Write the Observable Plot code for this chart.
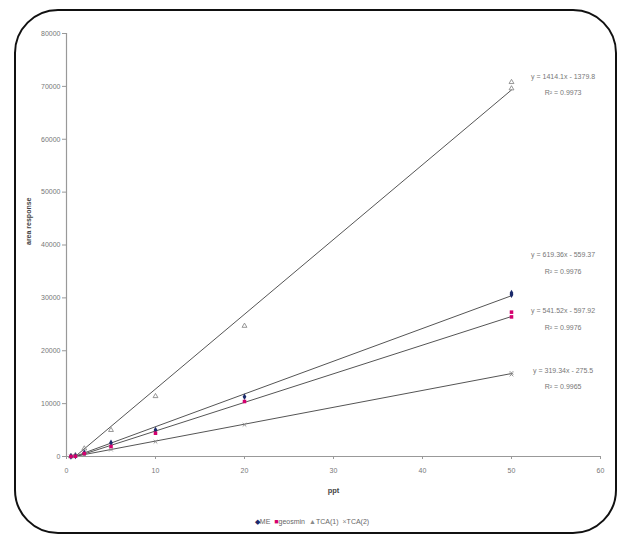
<!DOCTYPE html>
<html>
<head>
<meta charset="utf-8">
<script src="https://cdn.jsdelivr.net/npm/d3@7"></script>
<script src="https://cdn.jsdelivr.net/npm/@observablehq/plot@0.6"></script>
<style>
  html, body { margin: 0; padding: 0; background: #fff; }
  #wrap { position: relative; width: 624px; height: 535px; overflow: hidden; font-family: "Liberation Sans", Arial, sans-serif; }
  #frame { position: absolute; left: 14px; top: 9px; width: 599px; height: 521px; border: 2.5px solid #111; border-radius: 44px; pointer-events: none; }
  #legend { position: absolute; left: 0; width: 624px; top: 518px; text-align: center; font-size: 7px; color: #666; }
  #legend span { margin: 0 2px; }
</style>
</head>
<body>
<div id="wrap">
  <div id="chart"></div>
  <div id="legend"></div>
  <div id="frame"></div>
</div>
<script>
// ---- data ----
const seriesNames = ["ME", "geosmin", "TCA(1)", "TCA(2)"];
const concentrations = [0.5, 1, 2, 5, 10, 20, 50, 50];
const ME      = [20, 90, 700, 2600, 5000, 11300, 30600, 30900];
const geosmin = [10, 50, 560, 1900, 4400, 10400, 26400, 27300];
const TCA1    = [60, 250, 1500, 5000, 11400, 24700, 69600, 70800];
const TCA2    = [10, 60, 380, 1300, 2800, 6000, 15500, 15800];
const slopes     = [619.36, 541.52, 1414.1, 319.34];
const intercepts = [-559.37, -597.92, -1379.8, -275.5];
const r2Labels   = ["0.9976", "0.9976", "0.9973", "0.9965"];
const trendRange = [1, 50];
const xTicks = [0, 10, 20, 30, 40, 50, 60];
const yTicks = [0, 10000, 20000, 30000, 40000, 50000, 60000, 70000, 80000];
// annotation anchor (data coords) for each equation label block
const labelX = [55.8, 55.8, 55.8, 55.8];
const labelY = [37100, 26500, 70900, 15300];

// ---- build tables ----
const valuesBySeries = [ME, geosmin, TCA1, TCA2];
const points = [];
seriesNames.forEach((s, i) => concentrations.forEach((c, j) => points.push({series: s, x: c, y: valuesBySeries[i][j]})));
const trends = [];
seriesNames.forEach((s, i) => trendRange.forEach(x => trends.push({series: s, x, y: slopes[i] * x + intercepts[i]})));
const labels = seriesNames.map((s, i) => ({
  series: s, x: labelX[i], y: labelY[i],
  text: `y = ${slopes[i]}x - ${Math.abs(intercepts[i])}\nR² = ${r2Labels[i]}`
}));

const symbols = {"ME": "diamond", "geosmin": "square", "TCA(1)": "triangle", "TCA(2)": "times"};
const colors  = {"ME": "#1b2a6b", "geosmin": "#d4006e", "TCA(1)": "#8a8a8a", "TCA(2)": "#8a8a8a"};

const plot = Plot.plot({
  width: 624,
  height: 505,
  marginLeft: 66,
  marginRight: 24,
  marginTop: 33,
  marginBottom: 49,
  style: {fontFamily: "Liberation Sans, Arial, sans-serif", fontSize: "7px", color: "#777", background: "#fff"},
  x: {domain: [0, 60]},
  y: {domain: [0, 80000]},
  marks: [
    Plot.ruleX([0], {stroke: "#999", strokeWidth: 1.2}),
    Plot.ruleY([0], {stroke: "#999", strokeWidth: 1.2}),
    Plot.axisY({ticks: yTicks, tickSize: 4, tickPadding: 2, tickFormat: d => String(d), stroke: "#999", label: null}),
    Plot.axisX({ticks: xTicks, tickSize: 3, tickPadding: 9, tickFormat: d => String(d), stroke: "#999", label: null}),
    Plot.line(trends, {x: "x", y: "y", z: "series", stroke: "#555", strokeWidth: 1, clip: true}),
    Plot.dot(points.filter(d => d.series === "TCA(1)" || d.series === "TCA(2)"), {x: "x", y: "y", symbol: d => symbols[d.series], stroke: d => colors[d.series], r: 1.8, strokeWidth: 0.9}),
    Plot.dot(points.filter(d => d.series === "ME" || d.series === "geosmin"), {x: "x", y: "y", symbol: d => symbols[d.series], fill: d => colors[d.series], r: 2}),
    Plot.text(labels, {x: "x", y: "y", text: "text", lineAnchor: "middle", lineHeight: 2.3, fontSize: 7, fill: "#777", clip: false}),
    Plot.text(["area response"], {frameAnchor: "left", dx: -38, rotate: -90, fontWeight: "bold", fontSize: 7, fill: "#444"}),
    Plot.text(["ppt"], {frameAnchor: "bottom", dy: 36, fontWeight: "bold", fontSize: 7.5, fill: "#444"})
  ]
});
document.getElementById("chart").appendChild(plot);

// legend
const legendGlyph = {"ME": "◆", "geosmin": "■", "TCA(1)": "▲", "TCA(2)": "×"};
const leg = document.getElementById("legend");
seriesNames.forEach(s => {
  const span = document.createElement("span");
  span.innerHTML = `<span style="color:${colors[s]};margin:0">${legendGlyph[s]}</span>${s}`;
  leg.appendChild(span);
});
</script>
</body>
</html>
